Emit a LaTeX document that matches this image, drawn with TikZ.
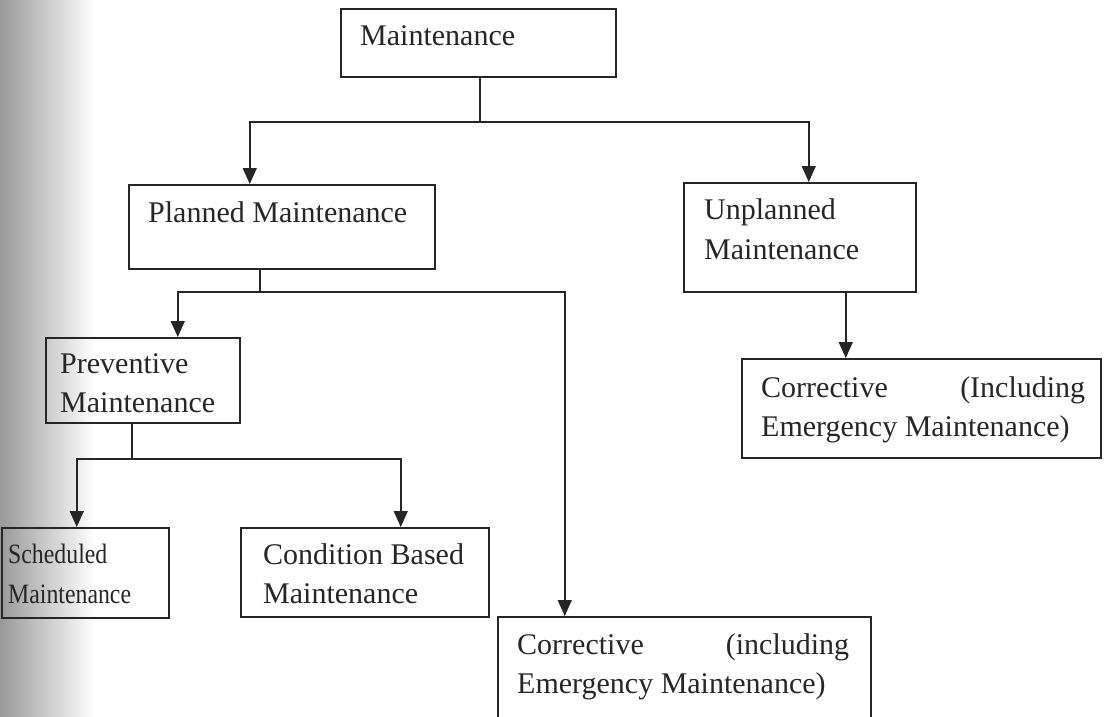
\documentclass[tikz,border=0pt]{standalone}
\usepackage{fontspec}
\setmainfont{Liberation Serif}
\usetikzlibrary{arrows.meta}

\tikzset{
  box/.style={draw=black!85, line width=1.5pt, rectangle, inner sep=0pt, anchor=north west},
  txt/.style={inner sep=0pt, anchor=base west, text=black!85,
              font=\fontsize{30}{36}\selectfont},
  small/.style={inner sep=0pt, anchor=base west, text=black!85,
              font=\fontsize{28}{34}\selectfont},
  link/.style={draw=black!85, line width=1.5pt},
  arr/.style={link, -{Triangle[width=14pt,length=16pt]}},
}

\newcommand{\narrow}[1]{\scalebox{0.85}[1]{#1}}

\begin{document}
\begin{tikzpicture}[x=1pt, y=-1pt]
  \clip (0,0) rectangle (1106,716);
  \fill[white] (0,0) rectangle (1106,716);
  % darker strip along the left margin of the page
  \shade[left color=black!40, right color=white] (0,0) rectangle (95,716);

  % boxes
  \node[box, minimum width=275pt, minimum height=68pt] (top)    at (340,8)   {};
  \node[box, minimum width=306pt, minimum height=84pt] (plan)   at (128,184) {};
  \node[box, minimum width=232pt, minimum height=109pt] (unpl)  at (683,182) {};
  \node[box, minimum width=359pt, minimum height=99pt] (rcorr)  at (741,358) {};
  \node[box, minimum width=194pt, minimum height=85pt] (prev)   at (45,337)  {};
  \node[box, minimum width=167pt, minimum height=90pt] (sched)  at (1,527)   {};
  \node[box, minimum width=248pt, minimum height=89pt] (cond)   at (240,527) {};
  \node[box, minimum width=373pt, minimum height=130pt] (bcorr) at (497,616) {};

  % labels
  \node[txt] (ttop)   at (360,45)  {Maintenance};
  \node[txt] (tplan)  at (148,222) {Planned Maintenance};
  \node[txt] (tunpl1) at (704,219) {Unplanned};
  \node[txt] (tunpl2) at (704,259) {Maintenance};
  \node[txt] (trc1)   at (761,397) {\hbox to 324pt{Corrective\hfill(Including}};
  \node[txt] (trc2)   at (761,436) {Emergency Maintenance)};
  \node[txt] (tprev1) at (60,373)  {Preventive};
  \node[txt] (tprev2) at (60,412)  {Maintenance};
  \node[small] (tsch1) at (8,563)  {\narrow{Scheduled}};
  \node[small] (tsch2) at (8,603)  {\narrow{Maintenance}};
  \node[txt] (tcond1) at (263,564) {Condition Based};
  \node[txt] (tcond2) at (263,603) {Maintenance};
  \node[txt] (tbc1)   at (517,654) {\hbox to 332pt{Corrective\hfill(including}};
  \node[txt] (tbc2)   at (517,693) {Emergency Maintenance)};

  % junction points
  \coordinate (j1) at ([xshift=1.5pt]top.south |- 0,122);
  \coordinate (j2) at ([xshift=-22pt]plan.south |- 0,292);
  \coordinate (j3) at ([xshift=-11pt]prev.south |- 0,459);

  % connectors
  \draw[link] ([xshift=1.5pt]top.south) -- (j1);
  \draw[arr] (j1) -| ([xshift=-32pt]plan.north);
  \draw[arr] (j1) -| ([xshift=9pt]unpl.north);

  \draw[link] ([xshift=-22pt]plan.south) -- (j2);
  \draw[arr] (j2) -| ([xshift=35pt]prev.north);
  \draw[arr] (j2) -| ([xshift=-119.5pt]bcorr.north);

  \draw[link] ([xshift=-11pt]prev.south) -- (j3);
  \draw[arr] (j3) -| ([xshift=-8.5pt]sched.north);
  \draw[arr] (j3) -| ([xshift=36pt]cond.north);

  \draw[arr] ([xshift=46pt]unpl.south) -- ([xshift=46pt]unpl.south |- rcorr.north);
\end{tikzpicture}
\end{document}
